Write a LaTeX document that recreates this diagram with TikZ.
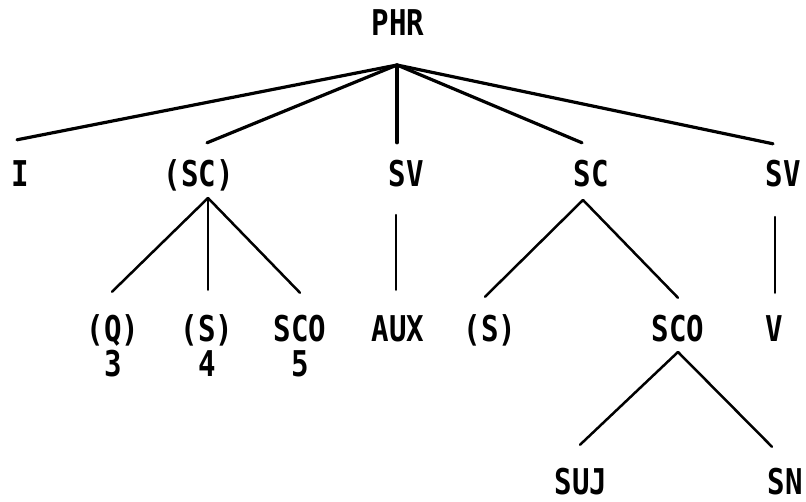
\documentclass[tikz,border=0pt]{standalone}
\usepackage{fontspec}
\usetikzlibrary{positioning}
\newfontfamily\treefont[FakeStretch=0.82]{DejaVu Sans Mono}

\begin{document}
\begin{tikzpicture}[x=1pt, y=-1pt,
                    node distance = 9pt,
                    lbl/.style = {inner sep=0pt, anchor=base, text height=26pt, text depth=0pt,
                                  font=\treefont\bfseries\fontsize{35.5}{36}\selectfont},
                    trunk/.style = {line width=3.2pt, line cap=round},
                    branch/.style = {line width=2.5pt, line cap=round}
                    ]
\useasboundingbox (0,0) rectangle (806,501);

% root
\node[lbl] (phr) at (398,35) {PHR};

% first level
\node[lbl] (i)   at (20,186)  {I};
\node[lbl] (sc1) at (199,186) {(SC)};
\node[lbl] (sv1) at (406,186) {SV};
\node[lbl] (sc2) at (591,186) {SC};
\node[lbl] (sv2) at (783,186) {SV};

% second level
\node[lbl] (q)    at (113,341) {(Q)};
\node[lbl] (s1)   at (207,341) {(S)};
\node[lbl] (sco1) at (300,341) {SCO};
\node[lbl] (aux)  at (398,341) {AUX};
\node[lbl] (s2)   at (490,341) {(S)};
\node[lbl] (sco2) at (678,341) {SCO};
\node[lbl] (v)    at (774,341) {V};

\node[lbl, below=of q]    (n3) {3};
\node[lbl, below=of s1]   (n4) {4};
\node[lbl, below=of sco1] (n5) {5};

% third level
\node[lbl] (suj) at (581,494) {SUJ};
\node[lbl] (sn)  at (785,494) {SN};

% fan points
\coordinate (fan0) at ([xshift=-1pt,yshift=-30pt]phr.base);
\coordinate (fan1) at ([xshift=9pt,yshift=-12pt]sc1.base);
\coordinate (fan2) at ([xshift=-8pt,yshift=-14pt]sc2.base);
\coordinate (fan3) at ([yshift=-11pt]sco2.base);

\path[trunk]
    (fan0) edge ([xshift=-3pt,yshift=20pt]i.north)
    (fan0) edge ([xshift=8pt,yshift=17pt]sc1.north)
    (fan0) edge ([xshift=-9pt,yshift=17pt]sv1.north)
    (fan0) edge ([xshift=-9pt,yshift=17pt]sc2.north)
    (fan0) edge ([xshift=-10pt,yshift=16pt]sv2.north);

\path[branch]
    (fan1) edge ([xshift=-1pt,yshift=23pt]q.north)
    (fan1) edge ([xshift=1pt,yshift=25pt]s1.north)
    (fan1) edge ([yshift=22pt]sco1.north)
    ([xshift=-10pt,yshift=-29pt]sv1.base) edge ([xshift=-2pt,yshift=25pt]aux.north)
    (fan2) edge ([xshift=-5pt,yshift=18pt]s2.north)
    (fan2) edge ([yshift=17pt]sco2.north)
    ([xshift=-8pt,yshift=-31pt]sv2.base) edge ([xshift=1pt,yshift=22pt]v.north)
    (fan3) edge ([xshift=-1pt,yshift=23pt]suj.north)
    (fan3) edge ([xshift=-13pt,yshift=21pt]sn.north);
\end{tikzpicture}
\end{document}
